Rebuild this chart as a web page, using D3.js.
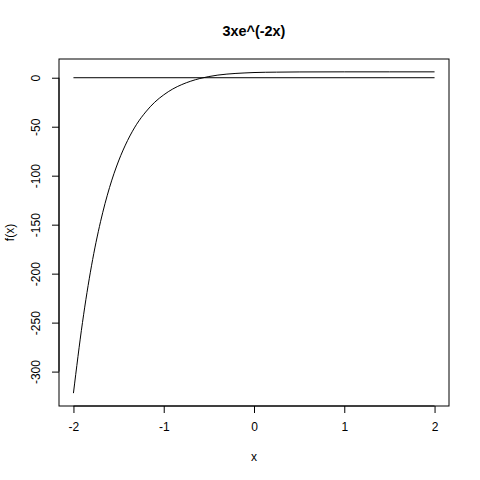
<!DOCTYPE html>
<html>
<head>
<meta charset="utf-8">
<script src="https://cdn.jsdelivr.net/npm/d3@7"></script>
<style>
  html, body { margin: 0; padding: 0; background: #fff; }
  svg text { font-family: "Liberation Sans", Arial, Helvetica, sans-serif; fill: #000; }
</style>
</head>
<body>
<svg id="grafico" width="480" height="480"></svg>
<script>
// valores
const xs = [-2, -1.9, -1.8, -1.7, -1.6, -1.5, -1.4, -1.3, -1.2, -1.1, -1.0, -0.9, -0.8,
            -0.7, -0.6, -0.5, -0.4, -0.3, -0.2, -0.1, 0, 0.25, 0.5, 1, 1.5, 2];
const fx = [-322, -250, -192, -147, -112, -85, -64, -47.5, -35, -25, -17.5, -11.5, -7,
            -3.5, -0.8, 1.2, 2.7, 3.7, 4.4, 4.9, 5.3, 5.7, 5.9, 6.0, 6.0, 6.0];
const lineaX = [-2, 2];
const lineaY = [0, 0];
const ticksX = [-2, -1, 0, 1, 2];
const ticksY = [0, -50, -100, -150, -200, -250, -300];
const titulo = "3xe^(-2x)";

const svg = d3.select('#grafico');

const izq = 59, der = 449, arriba = 59, abajo = 406;

const rx = [-2, 2], ry = [d3.min(fx), d3.max(fx)];
const px = (rx[1] - rx[0]) * 0.04, py = (ry[1] - ry[0]) * 0.04;

const x = d3.scaleLinear().domain([rx[0] - px, rx[1] + px]).range([izq, der]);
const y = d3.scaleLinear().domain([ry[0] - py, ry[1] + py]).range([abajo, arriba]);

// R escribe el guion normal, no el signo menos
const fmt = d => String(d);

// caja
svg.append('rect')
  .attr('x', izq).attr('y', arriba)
  .attr('width', der - izq).attr('height', abajo - arriba)
  .attr('fill', 'none').attr('stroke', '#000').attr('stroke-width', 1);

// ejes
const ejeX = svg.append('g')
  .attr('transform', `translate(0,${abajo})`)
  .call(d3.axisBottom(x).tickValues(ticksX).tickSize(7).tickPadding(9).tickFormat(fmt));
const ejeY = svg.append('g')
  .attr('transform', `translate(${izq},0)`)
  .call(d3.axisLeft(y).tickValues(ticksY).tickSize(7).tickPadding(0).tickFormat(fmt));

[ejeX, ejeY].forEach(g => {
  g.selectAll('path, line').attr('stroke', '#000');
  g.selectAll('text').attr('font-size', 12).style('font-family', '"Liberation Sans", Arial, sans-serif');
});
ejeX.select('path.domain').attr('d', `M${x(-2)},0H${x(2)}`);
ejeY.select('path.domain').attr('d', `M0,${y(0)}V${y(-300)}`);

// etiquetas del eje y giradas como en R
ejeY.selectAll('.tick text')
  .attr('x', 0).attr('dy', null)
  .attr('text-anchor', 'middle')
  .attr('transform', 'translate(-19,0) rotate(-90)');

// curva y linea en cero
const trazo = d3.line().x(d => x(d[0])).y(d => y(d[1])).curve(d3.curveMonotoneX);

svg.append('path')
  .datum(xs.map((v, i) => [v, fx[i]]))
  .attr('d', trazo)
  .attr('fill', 'none').attr('stroke', '#000').attr('stroke-width', 1);

svg.append('path')
  .datum(lineaX.map((v, i) => [v, lineaY[i]]))
  .attr('d', trazo)
  .attr('fill', 'none').attr('stroke', '#000').attr('stroke-width', 1);

// textos
svg.append('text')
  .attr('x', (izq + der) / 2).attr('y', 36)
  .attr('text-anchor', 'middle')
  .attr('font-size', 14.4).attr('font-weight', 'bold')
  .text(titulo);

svg.append('text')
  .attr('x', (izq + der) / 2).attr('y', 461)
  .attr('text-anchor', 'middle')
  .attr('font-size', 12)
  .text('x');

svg.append('text')
  .attr('transform', `translate(14,${(arriba + abajo) / 2}) rotate(-90)`)
  .attr('text-anchor', 'middle')
  .attr('font-size', 12)
  .text('f(x)');
</script>
</body>
</html>
